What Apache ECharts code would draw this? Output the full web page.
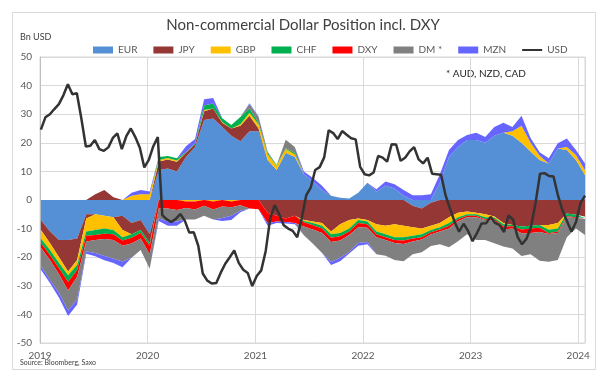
<!DOCTYPE html>
<html>
<head>
<meta charset="utf-8">
<script src="https://cdn.jsdelivr.net/npm/echarts@6/dist/echarts.min.js"></script>
<style>
  html, body { margin: 0; padding: 0; background: #fff; }
  #chart { width: 606px; height: 377px; }
</style>
</head>
<body>
<div id="chart"></div>
<script>
// weekly CFTC data, one value per month (Jan 2019 .. Jan 2024), Bn USD
var firstDay = '2019-01-04';
var lastDay = '2024-01-24';

var eur = [-7, -11, -14, -14, -13.5, -5, -5, -5.5, -6, -5.5, -8, -7,
    -12, 10.5, 11, 10, 15, 18.5, 28, 28.5, 25.5, 22.5, 20.5, 24,
    24, 14, 10.5, 16.5, 15, 9, 6.5, 3.5, 1.5, 0.8, 0.5, 2.5,
    6, 3, 5, 4, 1.5, -2, -3, -1, 6, 15, 18.5, 21,
    21, 20, 22.5, 23.5, 22.5, 20, 17, 14, 12.8, 18, 17.5, 14,
    8.7];
var jpy = [-3.5, -4, -6, -11, -7.5, -1.5, 2, 3.5, 1, -5, -4, -3.5,
    -3, 3, 3.2, 3.4, 1.5, 1, 3, 3.5, 1.5, 2.5, 5.5, 5.5,
    1, -4.5, -5.5, -6.5, -5.5, -7, -7.5, -8, -11, -8.5, -7, -6.5,
    -7, -8.5, -9, -8.5, -9, -7.5, -7, -8, -8, -6, -4.5, -4,
    -4.5, -5, -5.8, -8, -8.7, -9.3, -9, -8.7, -8.7, -8, -4.7, -5.2,
    -5.8];
var gbp = [-3, -2.5, -2, -1.3, -1.7, -4.5, -5.5, -4.5, -4.5, -2.5, 1.5, 2,
    2, 0.5, 0.5, 0.4, -0.5, -0.5, 0.5, -0.5, 0.3, -0.5, 0.5, 1,
    1.5, 2, 1.5, 1.3, 1, -0.3, -0.5, -1, -1, -3, -3, -0.5,
    -0.5, -2.5, -3, -4.5, -4, -3, -2, -1.5, -1.5, -2, -1.5, -1,
    -0.5, -1, -0.3, -0.5, 1.5, 6, 3, 1.5, -1.7, -2, 1, 1.7,
    1.8];
var chf = [-1.5, -1.7, -1.9, -2.4, -1.8, -1.5, -1.7, -1.8, -1.5, -1.2, -1.2, -1,
    -1, 1, 0.7, 0.8, 0.3, 0.3, 1.5, 1.7, 1.3, 1.2, 2.5, 1.5,
    0.5, 0.5, 0.2, 0.3, 0.5, -0.5, -0.8, -1, -1.2, -1.2, -1, -1,
    -1, -1, -1, -1, -1.2, -1, -1, -0.8, -0.8, -1, -0.7, -0.5,
    -0.5, -0.7, -0.5, -0.8, -0.5, -1, -1, -1, -1.2, -1, -1, -0.8,
    -0.5];
var dxy = [-1.7, -1.8, -2.1, -2.9, -2.3, -2, -1.8, -1.8, -2, -1.8, -2, -2,
    -3, -3, -3, -3.5, -2.3, -2.8, -2, -2.8, -2.3, -2, -1.8, -3,
    -3.2, -3.5, -2, -1.2, -2.5, -1.5, -1.5, -1.5, -1.5, -1.5, -1.2, -1.5,
    -1.2, -1, -1, -1, -1.2, -1, -0.8, -0.8, -0.7, -1, -0.7, -0.5,
    -0.5, -0.3, -0.5, -1, -0.8, -1.3, -1.5, -1.5, -0.3, -0.5, -0.3, -0.3,
    -0.3];
var dm = [-6.5, -7, -6.5, -7, -8, -3.5, -4.5, -6, -6.5, -5.5, -5, -4,
    -5, -3.5, -4.5, -4, -4, -3.5, -3.5, -3.5, -4, -3, -2, 1.5,
    2, 0.5, 0, 3, 2, -3, -5, -7, -7, -6, -6, -5.5,
    -5, -6, -5.5, -6, -6, -4.5, -4.5, -4, -4.5, -6.5, -7, -6,
    -8, -7, -8, -6, -7, -8, -7.5, -10, -9.7, -9.5, -7, -3.7,
    -5.6];
var mzn = [-1.2, -1, -1.7, -2, -1.7, -0.8, -1.2, -1.5, -1.5, -2, 1, 1.5,
    1, -0.8, -1.5, -1.5, 2, 1.5, 2.2, 2, -1, -1.5, -0.5, 0.3,
    0.3, -1, -0.5, -0.5, -0.5, 1, 1.2, 1.5, -1, -1.2, -0.5, -1,
    -0.8, 0.8, 1.5, 1.5, 2, 1.7, 1.7, 2, 3, 2.5, 2.5, 1.7,
    2.5, 2, 3, 3.5, 1.5, 3.5, 1.7, 1.2, 1.8, 1.8, 3, 1.8,
    2.3];

// net USD position, two readings per month
var usd = [24.6, 28.9, 30, 31.8, 33.5, 36.6, 40.5, 37, 37.3, 28.5, 18.7, 19,
    21, 17.8, 17.2, 18.4, 21.7, 23.3, 17.8, 22.3, 25, 22, 18.3, 11.4,
    14, 18.8, 22, -5.3, -6.8, -7.7, -6.6, -4.9, -7.2, -11.4, -11.3, -16,
    -25.7, -28.2, -29.2, -29, -25.4, -22.3, -20, -17.6, -22, -24.4, -25.5, -30.1,
    -26.6, -24.6, -17.8, -6.4, -1.8, -5, -8.8, -10, -10.8, -13, -6.5, 1.6,
    4.3, 10.5, 11.5, 14.9, 24.4, 23.4, 21.3, 24.1, 22.8, 21.6, 21.2, 11.6,
    9, 8.6, 9.6, 15.4, 14.8, 13.4, 19.5, 19.4, 13.7, 14.8, 17, 18.5,
    14.2, 12.8, 14.8, 9.2, 9, 8.8, 1.6, -3.1, -7.6, -11.1, -8.3, -10.8,
    -14.4, -11.5, -8.2, -8.1, -5.9, -8, -8.8, -11.2, -5.4, -6.8, -12.9, -15.5,
    -13.5, -9.3, -1.1, 9.2, 9.4, 8.4, 8.2, 1.5, -3.7, -7.4, -11, -7.7,
    -1.1, 1.5];

var yTicks = [-50, -40, -30, -20, -10, 0, 10, 20, 30, 40, 50];

function spreadDates(n) {
    var a = +new Date(firstDay), b = +new Date(lastDay);
    var out = [];
    for (var i = 0; i < n; i++) out.push(a + (b - a) * i / (n - 1));
    return out;
}

function pairs(values) {
    var d = spreadDates(values.length);
    return values.map(function(v, i) { return [d[i], v]; });
}

var font = 'Lato, "Open Sans", sans-serif';
var textGray = '#595959';

var parts = [
    { name: 'EUR', data: eur, color: '#5590d6' },
    { name: 'JPY', data: jpy, color: '#953735' },
    { name: 'GBP', data: gbp, color: '#ffc000' },
    { name: 'CHF', data: chf, color: '#00b050' },
    { name: 'DXY', data: dxy, color: '#ff0000' },
    { name: 'DM *', data: dm, color: '#808080' },
    { name: 'MZN', data: mzn, color: '#6666ff' }
];

// long and short sides are stacked apart, like Excel does it
function areaSeries(p, side) {
    var vals = p.data.map(function(v) {
        return side === 'pos' ? Math.max(v, 0) : Math.min(v, 0);
    });
    return {
        name: p.name,
        type: 'line',
        stack: side,
        stackStrategy: 'all',
        data: pairs(vals),
        symbol: 'none',
        color: p.color,
        lineStyle: { width: 0 },
        areaStyle: { color: p.color, opacity: 1 },
        emphasis: { disabled: true }
    };
}

var series = [];
parts.forEach(function(p) {
    series.push(areaSeries(p, 'pos'));
    series.push(areaSeries(p, 'neg'));
});

series.push({
    name: 'USD',
    type: 'line',
    data: pairs(usd),
    symbol: 'none',
    color: '#333333',
    lineStyle: { width: 2.5, color: '#333333' },
    z: 5,
    emphasis: { disabled: true }
});

var myChart = echarts.init(document.getElementById('chart'));

var option = {
    animation: false,
    backgroundColor: '#fff',
    textStyle: { fontFamily: font },
    title: {
        text: 'Non-commercial Dollar Position incl. DXY',
        left: 'center',
        top: 13,
        textStyle: { fontSize: 15, fontWeight: 'normal', color: '#404040', fontFamily: font }
    },
    legend: {
        left: 88,
        top: 40,
        itemWidth: 20,
        itemHeight: 7,
        itemGap: 16,
        textStyle: { fontSize: 10, color: textGray, fontFamily: font },
        data: parts.map(function(p) { return { name: p.name, icon: 'rect' }; }).concat([{
            name: 'USD',
            icon: 'path://M0,0 h0.01 v0.01 h-0.01 Z M0,2.6 H20 V4.4 H0 Z M0,6.99 h0.01 v0.01 h-0.01 Z'
        }])
    },
    grid: {
        left: 40,
        right: 21,
        top: 57,
        bottom: 34,
        show: true,
        borderColor: '#d9d9d9',
        borderWidth: 1
    },
    xAxis: {
        type: 'time',
        min: '2019-01-01',
        max: '2024-01-24',
        minInterval: 365 * 24 * 3600 * 1000,
        maxInterval: 366 * 24 * 3600 * 1000,
        axisLine: { show: false },
        axisTick: { show: false },
        splitLine: { show: true, lineStyle: { color: '#d9d9d9', width: 1 } },
        axisLabel: {
            formatter: '{yyyy}',
            color: textGray,
            fontSize: 10,
            margin: 8,
            showMaxLabel: false,
            fontFamily: font
        }
    },
    yAxis: {
        type: 'value',
        min: yTicks[0],
        max: yTicks[yTicks.length - 1],
        interval: 10,
        axisLine: { show: true, lineStyle: { color: '#bfbfbf' } },
        axisTick: { show: false },
        splitLine: { lineStyle: { color: '#d9d9d9', width: 1 } },
        axisLabel: { color: textGray, fontSize: 10, margin: 8, fontFamily: font }
    },
    graphic: [
        {
            type: 'rect',
            shape: { x: 12.5, y: 12.5, width: 583, height: 357 },
            style: { fill: 'none', stroke: '#d9d9d9', lineWidth: 1 },
            silent: true
        },
        {
            type: 'text', left: 20, top: 33,
            style: { text: 'Bn USD', fontSize: 9, fill: '#404040', fontFamily: font }
        },
        {
            type: 'text', left: 446, top: 69,
            style: { text: '* AUD, NZD, CAD', fontSize: 10, fill: '#262626', fontFamily: font }
        },
        {
            type: 'text', left: 20, top: 359,
            style: { text: 'Source: Bloomberg, Saxo', fontSize: 7, fill: '#404040', fontFamily: font }
        }
    ],
    series: series
};

myChart.setOption(option);
</script>
</body>
</html>
